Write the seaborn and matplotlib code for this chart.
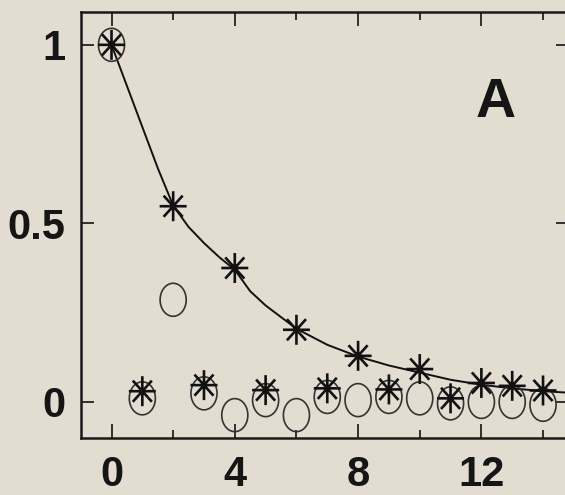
import numpy as np
import matplotlib
matplotlib.use('Agg')
import matplotlib.pyplot as plt
from matplotlib.path import Path
import seaborn as sns

# 数据
steps = [0, 1, 2, 3, 4, 5, 6, 7, 8, 9, 10, 11, 12, 13, 14]
star_vals = [1.0, 0.03, 0.548, 0.047, 0.375, 0.033, 0.202, 0.038, 0.129, 0.035,
             0.092, 0.01, 0.053, 0.045, 0.032]
circle_vals = [1.0, 0.01, 0.286, 0.024, -0.037, 0.005, -0.037, 0.014, 0.005, 0.014,
               0.01, -0.004, 0.0, 0.0, -0.008]

# 拟合曲线
fit_x = [0, 0.5, 1, 1.5, 2, 2.5, 3, 3.5, 4, 4.5, 5, 6, 7, 8, 9, 10, 11, 12, 13, 14, 14.8]
fit_y = [1.0, 0.885, 0.77, 0.655, 0.55, 0.49, 0.445, 0.405, 0.37, 0.31, 0.27, 0.205,
         0.16, 0.127, 0.102, 0.082, 0.062, 0.048, 0.038, 0.03, 0.026]

x_major = [0, 4, 8, 12]
x_minor = [2, 6, 10, 14]
y_ticks = [0, 0.5, 1]
y_labels = ['0', '0.5', '1']

bg = '#e3ddd1'

sns.set_style('ticks')
plt.rcParams['font.family'] = ['Liberation Sans', 'DejaVu Sans']

# 椭圆形的圆圈和八臂星号（原图纵向略拉伸）
t = np.linspace(0, 2 * np.pi, 60)
ellipse = Path(np.column_stack([0.79 * np.cos(t), np.sin(t)]), closed=True)
star_verts, star_codes = [], []
for a in np.arange(4) * np.pi / 4:
    dx, dy = 0.9 * np.cos(a), np.sin(a)
    star_verts += [(-dx, -dy), (dx, dy)]
    star_codes += [Path.MOVETO, Path.LINETO]
star = Path(star_verts, star_codes)

fig = plt.figure(figsize=(5.65, 4.95), dpi=100, facecolor=bg)
ax = fig.add_axes([0.1428, 0.1152, 0.8625, 0.8606])
ax.set_facecolor(bg)

sns.lineplot(x=fit_x, y=fit_y, color='#111111', linewidth=1.4, ax=ax)
sns.scatterplot(x=steps, y=circle_vals, marker=ellipse, s=565, facecolor='none',
                edgecolor='#333333', linewidth=1.2, ax=ax, zorder=3)
sns.scatterplot(x=steps, y=star_vals, marker=star, s=466, facecolor='none',
                edgecolor='#111111', linewidth=1.9, ax=ax, zorder=4)

ax.text(12.45, 0.837, 'A', fontsize=40, fontweight='bold', ha='center', va='center',
        color='#151515')

ax.set_xlim(-1, 14.81)
ax.set_ylim(-0.101, 1.092)
ax.set_xticks(x_major)
ax.set_xticks(x_minor, minor=True)
ax.set_yticks(y_ticks)
ax.set_yticklabels(y_labels)
ax.tick_params(axis='both', which='both', direction='in', top=True, right=True,
               color='#222222', width=1.3, labelsize=30, labelcolor='#151515')
ax.tick_params(axis='x', which='major', length=10, pad=12)
ax.tick_params(axis='x', which='minor', length=6)
ax.tick_params(axis='y', which='major', length=9, pad=11)
for lab in ax.get_xticklabels() + ax.get_yticklabels():
    lab.set_fontweight('bold')
for sp in ax.spines.values():
    sp.set_linewidth(1.8)
    sp.set_color('#1a1a1a')

fig.savefig('out.png', dpi=100, facecolor=bg)
